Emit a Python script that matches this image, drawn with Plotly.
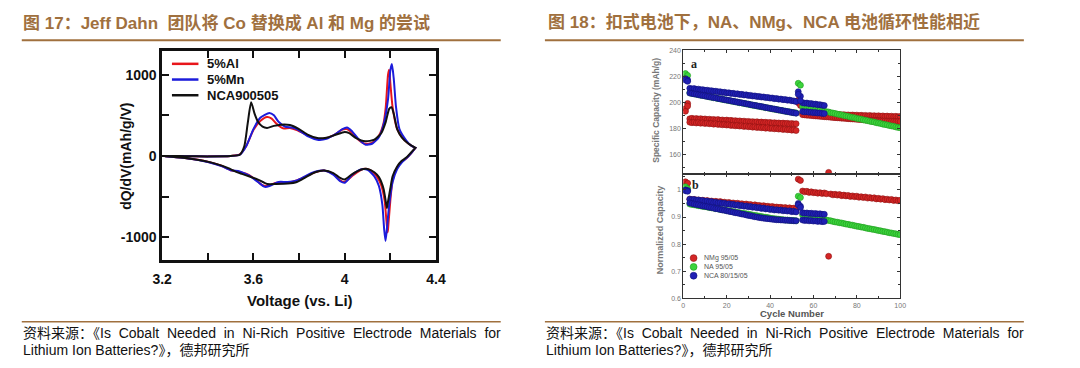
import plotly.graph_objects as go

# ---------------- Left chart: dQ/dV curves ----------------
v_al_charge = [3.20, 3.30, 3.40, 3.50, 3.54, 3.57, 3.60, 3.63, 3.66, 3.68, 3.70, 3.73, 3.76, 3.79, 3.84, 3.88,
               3.92, 3.96, 3.99, 4.01, 4.03, 4.06, 4.09, 4.12, 4.15, 4.17, 4.18, 4.19, 4.195, 4.20, 4.21, 4.23,
               4.26, 4.29, 4.31]
dq_al_charge = [0, -2, -5, 0, 20, 130, 320, 430, 480, 460, 400, 340, 345, 320, 250, 210,
                220, 270, 325, 330, 290, 200, 150, 160, 250, 400, 600, 1000, 1060, 900, 600, 330,
                200, 130, 100]
v_al_dis = [4.31, 4.29, 4.27, 4.25, 4.23, 4.21, 4.20, 4.19, 4.188, 4.183, 4.175, 4.16, 4.14, 4.11, 4.08, 4.04,
            4.00, 3.98, 3.95, 3.91, 3.87, 3.83, 3.79, 3.74, 3.70, 3.66, 3.64, 3.61, 3.57, 3.53, 3.50, 3.46,
            3.40, 3.30, 3.20]
dq_al_dis = [100, 30, -30, -70, -140, -300, -550, -900, -940, -800, -550, -360, -250, -170, -160, -230,
             -320, -300, -220, -180, -200, -250, -300, -330, -330, -370, -360, -290, -220, -190, -175, -120,
             -70, -25, 0]

v_mn_charge = [3.20, 3.30, 3.40, 3.50, 3.54, 3.57, 3.60, 3.63, 3.67, 3.69, 3.71, 3.74, 3.77, 3.80, 3.84, 3.88,
               3.92, 3.96, 3.99, 4.01, 4.03, 4.06, 4.09, 4.12, 4.15, 4.17, 4.19, 4.20, 4.207, 4.215, 4.225, 4.24,
               4.27, 4.29, 4.31]
dq_mn_charge = [0, -2, -5, 0, 15, 130, 330, 470, 530, 500, 420, 360, 350, 315, 240, 200,
                210, 270, 330, 350, 310, 210, 140, 150, 230, 380, 700, 1050, 1130, 950, 600, 330,
                190, 130, 100]
v_mn_dis = [4.31, 4.29, 4.27, 4.25, 4.23, 4.21, 4.195, 4.185, 4.179, 4.173, 4.165, 4.15, 4.13, 4.10, 4.07, 4.03,
            4.00, 3.98, 3.95, 3.91, 3.87, 3.83, 3.79, 3.75, 3.71, 3.67, 3.65, 3.62, 3.58, 3.54, 3.50, 3.46,
            3.40, 3.30, 3.20]
dq_mn_dis = [100, 30, -30, -80, -160, -320, -600, -900, -1045, -900, -600, -370, -250, -170, -165, -240,
             -330, -310, -230, -180, -195, -245, -300, -320, -320, -370, -380, -320, -240, -190, -175, -125,
             -75, -25, 0]

v_nca_charge = [3.20, 3.30, 3.40, 3.50, 3.54, 3.56, 3.575, 3.59, 3.605, 3.62, 3.64, 3.66, 3.69, 3.72, 3.76, 3.80,
                3.84, 3.88, 3.92, 3.96, 4.00, 4.02, 4.05, 4.09, 4.13, 4.16, 4.18, 4.195, 4.205, 4.215, 4.23,
                4.25, 4.28, 4.31]
dq_nca_charge = [0, -2, -5, 0, 15, 120, 400, 660, 520, 420, 360, 345, 370, 385, 380, 330,
                 260, 220, 225, 260, 295, 280, 220, 180, 200, 280, 420, 580, 600, 520, 330,
                 230, 150, 100]
v_nca_dis = [4.31, 4.29, 4.27, 4.25, 4.23, 4.21, 4.20, 4.19, 4.185, 4.18, 4.17, 4.15, 4.13, 4.10, 4.07, 4.03,
             4.00, 3.98, 3.95, 3.91, 3.87, 3.83, 3.79, 3.75, 3.70, 3.66, 3.62, 3.58, 3.55, 3.52, 3.49, 3.44,
             3.38, 3.30, 3.20]
dq_nca_dis = [100, 40, -20, -60, -130, -250, -400, -560, -640, -560, -400, -260, -200, -160, -170, -230,
              -290, -270, -210, -180, -200, -260, -320, -340, -345, -345, -290, -250, -220, -190, -150, -100,
              -60, -25, 0]

left_series = ["5%Al", "5%Mn", "NCA900505"]
left_colors = ["#E8161B", "#1C1CDB", "#111111"]
x_ticks_left = [3.2, 3.4, 3.6, 3.8, 4.0, 4.2, 4.4]
x_ticktext_left = ["3.2", "", "3.6", "", "4", "", "4.4"]
y_ticks_left = [-1000, -500, 0, 500, 1000]
y_ticktext_left = ["-1000", "", "0", "", "1000"]

# ---------------- Right chart: cycling ----------------
cycles = list(range(1, 101))

nmg_cap_a = ([195.0, 199.0] +
             [187.2, 187.6, 187.0, 187.4, 186.9, 187.3, 186.8, 187.1, 186.5, 186.9,
              186.4, 186.7, 186.2, 186.6, 186.0, 186.3, 185.8, 186.2, 185.7, 186.0,
              185.5, 185.8, 185.3, 185.6, 185.1, 185.4, 184.9, 185.2, 184.8, 185.0,
              184.6, 184.9, 184.4, 184.7, 184.3, 184.5, 184.1, 184.4, 183.9, 184.2,
              183.8, 184.0, 183.6, 183.9, 183.5, 183.7, 183.3, 183.6, 183.2, 183.4] +
             [201.5, 199.0] +
             [191.8, 191.5, 191.7, 191.2, 191.4, 191.0, 191.3, 190.9, 191.1, 190.8,
              191.0, 190.6, 146.0, 190.7, 190.4, 190.6, 190.3, 190.5, 190.1, 190.4,
              190.0, 190.2, 189.9, 190.1, 189.8, 190.0, 189.6, 189.9, 189.5, 189.8,
              189.4, 189.7, 189.3, 189.6, 189.2, 189.5, 189.1, 189.4, 189.0, 189.3,
              188.9, 189.2, 188.8, 189.1, 188.7, 189.0])
nmg_cap_b = ([193.0, 197.0] +
             [184.6, 184.2, 184.5, 184.0, 184.3, 183.8, 184.1, 183.6, 183.9, 183.4,
              183.6, 183.1, 183.4, 182.9, 183.1, 182.6, 182.9, 182.4, 182.6, 182.1,
              182.3, 181.8, 182.1, 181.6, 181.8, 181.3, 181.6, 181.1, 181.3, 180.8,
              181.0, 180.5, 180.8, 180.3, 180.5, 180.0, 180.3, 179.8, 180.0, 179.5,
              179.8, 179.3, 179.5, 179.0, 179.3, 178.8, 179.0, 178.5, 178.7, 178.2] +
             [199.5, 197.5] +
             [190.4, 190.2, 190.0, 189.9, 189.7, 189.6, 189.4, 189.3, 189.1, 189.0,
              188.8, 188.7, 188.6, 188.4, 188.3, 188.1, 188.0, 187.9, 187.7, 187.6,
              187.5, 187.3, 187.2, 187.1, 187.0, 186.8, 186.7, 186.6, 186.5, 186.3,
              186.2, 186.1, 186.0, 185.9, 185.8, 185.7, 185.6, 185.5, 185.5, 185.4,
              185.3, 185.3, 185.2, 185.1, 185.1, 185.0])
na_cap = ([222.0, 220.5] +
          [207.2, 206.6, 206.5, 206.0, 205.8, 205.3, 205.2, 204.7, 204.5, 204.0,
           203.8, 203.4, 203.2, 202.7, 202.6, 202.1, 201.9, 201.5, 201.3, 200.8,
           200.6, 200.2, 200.0, 199.5, 199.4, 198.9, 198.7, 198.3, 198.1, 197.6,
           197.5, 197.0, 196.8, 196.4, 196.2, 195.7, 195.6, 195.1, 194.9, 194.5,
           194.3, 193.9, 193.7, 193.3, 193.1, 192.7, 192.6, 192.2, 192.0, 191.7] +
          [214.5, 213.0] +
          [196.8, 196.3, 196.0, 195.7, 195.2, 194.9, 194.6, 194.1, 193.8, 193.5,
           193.0, 192.7, 192.4, 191.9, 191.6, 191.3, 190.8, 190.5, 190.2, 189.7,
           189.4, 189.1, 188.6, 188.3, 188.0, 187.5, 187.2, 186.9, 186.4, 186.1,
           185.8, 185.3, 185.0, 184.7, 184.2, 183.9, 183.6, 183.1, 182.8, 182.5,
           182.0, 181.7, 181.4, 180.9, 180.6, 180.3])
nca_cap_a = ([218.0, 217.0] +
             [210.6, 210.2, 210.4, 209.8, 210.0, 209.5, 209.6, 209.1, 209.2, 208.7,
              208.8, 208.3, 208.4, 207.9, 208.0, 207.5, 207.6, 207.1, 207.2, 206.7,
              206.8, 206.3, 206.4, 205.9, 206.0, 205.5, 205.6, 205.1, 205.2, 204.7,
              204.8, 204.3, 204.4, 203.9, 204.0, 203.5, 203.6, 203.1, 203.2, 202.7,
              202.8, 202.3, 202.4, 201.9, 202.0, 201.5, 201.6, 201.1, 200.9, 200.5] +
             [208.0, 204.5] +
             [199.5, 199.2, 199.3, 198.8, 198.9, 198.4, 198.5, 198.0, 198.1, 197.6, 197.4])
nca_cap_b = ([217.0, 216.0] +
             [207.0, 206.7, 206.3, 206.1, 205.7, 205.4, 205.1, 204.8, 204.4, 204.2,
              203.8, 203.5, 203.2, 202.9, 202.5, 202.3, 201.9, 201.6, 201.3, 201.0,
              200.6, 200.4, 200.0, 199.7, 199.4, 199.1, 198.7, 198.5, 198.1, 197.8,
              197.5, 197.2, 196.8, 196.6, 196.2, 195.9, 195.6, 195.3, 194.9, 194.7,
              194.3, 194.0, 193.7, 193.4, 193.0, 192.8, 192.4, 192.1, 191.8, 191.5] +
             [206.0, 201.0] +
             [192.8, 192.5, 192.6, 192.2, 192.3, 191.9, 192.0, 191.6, 191.7, 191.3, 191.2])

nmg_norm = ([1.030, 1.025] +
            [0.966, 0.963, 0.965, 0.962, 0.963, 0.960, 0.962, 0.959, 0.961, 0.958,
             0.959, 0.956, 0.958, 0.955, 0.957, 0.954, 0.955, 0.952, 0.954, 0.951,
             0.952, 0.949, 0.951, 0.948, 0.949, 0.946, 0.948, 0.945, 0.946, 0.943,
             0.945, 0.942, 0.943, 0.940, 0.942, 0.939, 0.940, 0.937, 0.939, 0.936,
             0.937, 0.935, 0.936, 0.933, 0.935, 0.932, 0.934, 0.931, 0.933, 0.930] +
            [1.040, 1.035] +
            [0.996, 0.993, 0.995, 0.991, 0.993, 0.990, 0.991, 0.988, 0.990, 0.987,
             0.989, 0.986, 0.755, 0.985, 0.982, 0.984, 0.981, 0.983, 0.979, 0.981,
             0.978, 0.980, 0.976, 0.978, 0.975, 0.977, 0.973, 0.975, 0.972, 0.974,
             0.970, 0.972, 0.969, 0.971, 0.967, 0.969, 0.966, 0.968, 0.964, 0.966,
             0.963, 0.965, 0.961, 0.963, 0.960, 0.962])
na_norm = ([1.012, 1.005] +
           [0.948, 0.946, 0.945, 0.944, 0.942, 0.941, 0.939, 0.938, 0.937, 0.935,
            0.934, 0.933, 0.931, 0.930, 0.928, 0.927, 0.926, 0.924, 0.923, 0.921,
            0.920, 0.919, 0.917, 0.916, 0.914, 0.913, 0.912, 0.910, 0.909, 0.907,
            0.906, 0.905, 0.903, 0.902, 0.900, 0.899, 0.898, 0.896, 0.895, 0.894,
            0.893, 0.892, 0.891, 0.890, 0.889, 0.889, 0.888, 0.887, 0.887, 0.886] +
           [0.977, 0.972] +
           [0.908, 0.906, 0.905, 0.903, 0.901, 0.899, 0.897, 0.895, 0.894, 0.892,
            0.890, 0.889, 0.887, 0.886, 0.884, 0.882, 0.881, 0.879, 0.878, 0.876,
            0.874, 0.873, 0.871, 0.870, 0.868, 0.866, 0.865, 0.863, 0.862, 0.860,
            0.858, 0.857, 0.855, 0.854, 0.852, 0.850, 0.849, 0.847, 0.846, 0.844,
            0.842, 0.841, 0.839, 0.838, 0.836, 0.835])
nca_norm_a = ([1.000, 0.998] +
              [0.966, 0.964, 0.965, 0.962, 0.963, 0.960, 0.961, 0.958, 0.959, 0.956,
               0.957, 0.954, 0.955, 0.952, 0.953, 0.950, 0.951, 0.948, 0.949, 0.946,
               0.947, 0.944, 0.945, 0.942, 0.943, 0.940, 0.941, 0.938, 0.939, 0.936,
               0.937, 0.934, 0.935, 0.932, 0.933, 0.930, 0.931, 0.928, 0.929, 0.926,
               0.927, 0.925, 0.926, 0.923, 0.924, 0.922, 0.923, 0.920, 0.921, 0.919] +
              [0.950, 0.940] +
              [0.916, 0.914, 0.915, 0.913, 0.914, 0.912, 0.913, 0.911, 0.912, 0.910, 0.910])
nca_norm_b = ([0.997, 0.995] +
              [0.952, 0.950, 0.948, 0.946, 0.945, 0.943, 0.941, 0.940, 0.938, 0.936,
               0.935, 0.933, 0.931, 0.930, 0.928, 0.926, 0.925, 0.923, 0.921, 0.920,
               0.918, 0.916, 0.915, 0.913, 0.911, 0.910, 0.908, 0.906, 0.905, 0.903,
               0.901, 0.900, 0.898, 0.897, 0.896, 0.895, 0.894, 0.893, 0.892, 0.891,
               0.890, 0.890, 0.889, 0.889, 0.888, 0.888, 0.887, 0.887, 0.886, 0.886] +
              [0.945, 0.935] +
              [0.889, 0.887, 0.888, 0.886, 0.887, 0.885, 0.886, 0.884, 0.885, 0.883, 0.884])

right_series = ["NMg 95/05", "NA 95/05", "NCA 80/15/05"]
right_fill = ["#D42626", "#3CD43C", "#2020B4"]
right_edge = ["#8E1010", "#1F9A1F", "#10107A"]

# ---------------- Texts ----------------
title_left = "图 17：Jeff Dahn  团队将 Co 替换成 Al 和 Mg 的尝试"
title_right = "图 18：扣式电池下，NA、NMg、NCA 电池循环性能相近"
source_line1 = "资料来源：《Is Cobalt Needed in Ni-Rich Positive Electrode Materials for"
source_line2 = "Lithium Ion Batteries?》，德邦研究所"

BROWN = "#A0703E"
FONT = "Arial, Liberation Sans, Noto Sans CJK SC, sans-serif"
W_PX, H_PX = 1080, 368


def px(x):
    return x / W_PX


def py(y):
    return 1 - y / H_PX


fig = go.Figure()

# Left chart traces
left_x = [v_al_charge + v_al_dis, v_mn_charge + v_mn_dis, v_nca_charge + v_nca_dis]
left_y = [dq_al_charge + dq_al_dis, dq_mn_charge + dq_mn_dis, dq_nca_charge + dq_nca_dis]
for name, color, xs, ys in zip(left_series, left_colors, left_x, left_y):
    fig.add_trace(go.Scatter(x=xs, y=ys, mode="lines", name=name, showlegend=False,
                             line=dict(color=color, width=2, shape="spline", smoothing=0.6),
                             xaxis="x", yaxis="y"))

# Right top panel
top_sets = [
    (nmg_cap_a, 0), (nmg_cap_b, 0), (na_cap, 1), (nca_cap_a, 2), (nca_cap_b, 2)
]
for vals, idx in top_sets:
    fig.add_trace(go.Scatter(x=cycles[:len(vals)], y=vals, mode="markers", showlegend=False,
                             name=right_series[idx],
                             marker=dict(size=6, color=right_fill[idx],
                                         line=dict(color=right_edge[idx], width=0.6)),
                             xaxis="x2", yaxis="y2"))

bottom_sets = [
    (nmg_norm, 0), (na_norm, 1), (nca_norm_a, 2), (nca_norm_b, 2)
]
for vals, idx in bottom_sets:
    fig.add_trace(go.Scatter(x=cycles[:len(vals)], y=vals, mode="markers", showlegend=False,
                             name=right_series[idx],
                             marker=dict(size=6, color=right_fill[idx],
                                         line=dict(color=right_edge[idx], width=0.6)),
                             xaxis="x3", yaxis="y3"))

left_tickfont = dict(family=FONT, size=14, color="#111111", weight="bold")
right_tickfont = dict(family=FONT, size=7, color="#777777")

fig.update_layout(
    width=W_PX, height=H_PX,
    margin=dict(l=0, r=0, t=0, b=0),
    paper_bgcolor="white", plot_bgcolor="white",
    showlegend=False,
    font=dict(family=FONT),
    xaxis=dict(domain=[px(155), px(434)], anchor="y", range=[3.2, 4.4],
               tickvals=x_ticks_left, ticktext=x_ticktext_left,
               ticks="inside", ticklen=7, tickwidth=2, tickcolor="#111111",
               ticklabelstandoff=4,
               showline=True, linewidth=2.5, linecolor="#111111", mirror="ticks",
               showgrid=False, zeroline=False, tickfont=left_tickfont),
    yaxis=dict(domain=[py(261), py(48)], anchor="x", range=[-1280, 1290],
               tickvals=y_ticks_left, ticktext=y_ticktext_left,
               ticks="inside", ticklen=7, tickwidth=2, tickcolor="#111111",
               showline=True, linewidth=2.5, linecolor="#111111", mirror="ticks",
               showgrid=False, zeroline=False, tickfont=left_tickfont),
    xaxis2=dict(domain=[px(686), px(907)], anchor="y2", range=[0, 100], dtick=20,
                showticklabels=False, ticks="inside", ticklen=3, tickcolor="#333333",
                minor=dict(dtick=10, ticks="inside", ticklen=2, tickcolor="#333333"),
                showline=True, linewidth=1, linecolor="#333333", mirror="ticks",
                showgrid=False, zeroline=False),
    yaxis2=dict(domain=[py(173), py(47)], anchor="x2", range=[145, 240], dtick=20,
                tick0=0, ticks="inside", ticklen=3, tickcolor="#333333",
                minor=dict(dtick=10, ticks="inside", ticklen=2, tickcolor="#333333"),
                showline=True, linewidth=1, linecolor="#333333", mirror="ticks",
                showgrid=False, zeroline=False, tickfont=right_tickfont),
    xaxis3=dict(domain=[px(686), px(907)], anchor="y3", range=[0, 100], dtick=20,
                ticks="inside", ticklen=3, tickcolor="#333333",
                minor=dict(dtick=10, ticks="inside", ticklen=2, tickcolor="#333333"),
                showline=True, linewidth=1, linecolor="#333333", mirror="ticks",
                showgrid=False, zeroline=False, tickfont=right_tickfont),
    yaxis3=dict(domain=[py(300), py(173)], anchor="x3", range=[0.6, 1.06],
                tickvals=[0.6, 0.7, 0.8, 0.9, 1.0], ticktext=["0.6", "0.7", "0.8", "0.9", "1"],
                ticks="inside", ticklen=3, tickcolor="#333333",
                minor=dict(dtick=0.05, ticks="inside", ticklen=2, tickcolor="#333333"),
                showline=True, linewidth=1, linecolor="#333333", mirror="ticks",
                showgrid=False, zeroline=False, tickfont=right_tickfont),
)

shapes = []
annotations = []

# Title rules and footer rules
for x0, x1 in [(12, 500), (545, 1033)]:
    shapes.append(dict(type="line", xref="paper", yref="paper", x0=px(x0), x1=px(x1),
                       y0=py(37), y1=py(37), line=dict(color=BROWN, width=2)))
    shapes.append(dict(type="line", xref="paper", yref="paper", x0=px(x0), x1=px(x1),
                       y0=py(324), y1=py(324), line=dict(color=BROWN, width=1.5)))

# Titles
annotations.append(dict(text="<b>" + title_left + "</b>", x=px(11), y=py(19), xref="paper", yref="paper",
                        xanchor="left", yanchor="middle", showarrow=False,
                        font=dict(family=FONT, size=17, color=BROWN)))
annotations.append(dict(text="<b>" + title_right + "</b>", x=px(546), y=py(19), xref="paper", yref="paper",
                        xanchor="left", yanchor="middle", showarrow=False,
                        font=dict(family=FONT, size=17, color=BROWN)))

# Footers (first line is justified in the source: widen its word gaps)
line1_display = source_line1.replace(" ", "&nbsp; ")
for x0 in [11, 544]:
    annotations.append(dict(text=line1_display, x=px(x0), y=py(335), xref="paper", yref="paper",
                            xanchor="left", yanchor="middle", showarrow=False,
                            font=dict(family=FONT, size=14, color="#111111")))
    annotations.append(dict(text=source_line2, x=px(x0), y=py(353), xref="paper", yref="paper",
                            xanchor="left", yanchor="middle", showarrow=False,
                            font=dict(family=FONT, size=14, color="#111111")))

# Left axis titles
annotations.append(dict(text="<b>dQ/dV(mAh/g/V)</b>", x=px(118), y=py(155), xref="paper", yref="paper",
                        xanchor="center", yanchor="middle", textangle=-90, showarrow=False,
                        font=dict(family=FONT, size=14, color="#111111")))
annotations.append(dict(text="<b>Voltage (vs. Li)</b>", x=px(295), y=py(302), xref="paper", yref="paper",
                        xanchor="center", yanchor="middle", showarrow=False,
                        font=dict(family=FONT, size=15, color="#111111")))

# Left legend
for i, (name, color) in enumerate(zip(left_series, left_colors)):
    yy = 61 + 16 * i
    shapes.append(dict(type="line", xref="paper", yref="paper", x0=px(165), x1=px(192),
                       y0=py(yy), y1=py(yy), line=dict(color=color, width=2.5)))
    annotations.append(dict(text="<b>" + name + "</b>", x=px(199), y=py(yy), xref="paper", yref="paper",
                            xanchor="left", yanchor="middle", showarrow=False,
                            font=dict(family=FONT, size=13, color="#111111")))

# Right axis titles
annotations.append(dict(text="<b>Specific Capacity (mAh/g)</b>", x=px(658), y=py(108), xref="paper",
                        yref="paper", xanchor="center", yanchor="middle", textangle=-90, showarrow=False,
                        font=dict(family=FONT, size=8.5, color="#777777")))
annotations.append(dict(text="<b>Normalized Capacity</b>", x=px(662), y=py(230), xref="paper",
                        yref="paper", xanchor="center", yanchor="middle", textangle=-90, showarrow=False,
                        font=dict(family=FONT, size=9, color="#777777")))
annotations.append(dict(text="<b>Cycle Number</b>", x=px(797), y=py(316), xref="paper",
                        yref="paper", xanchor="center", yanchor="middle", showarrow=False,
                        font=dict(family=FONT, size=9.5, color="#555555")))
annotations.append(dict(text="<b>a</b>", x=px(697), y=py(61), xref="paper", yref="paper",
                        xanchor="center", yanchor="middle", showarrow=False,
                        font=dict(family="Liberation Serif, DejaVu Serif, serif", size=12, color="#222222")))
annotations.append(dict(text="<b>b</b>", x=px(698), y=py(184), xref="paper", yref="paper",
                        xanchor="center", yanchor="middle", showarrow=False,
                        font=dict(family="Liberation Serif, DejaVu Serif, serif", size=12, color="#222222")))

# Right legend
for i, name in enumerate(right_series):
    yy = 259 + 9 * i
    shapes.append(dict(type="circle", xref="paper", yref="paper",
                       x0=px(693), x1=px(700), y0=py(yy + 3.5), y1=py(yy - 3.5),
                       fillcolor=right_fill[i], line=dict(color=right_edge[i], width=0.6)))
    annotations.append(dict(text=name, x=px(705), y=py(yy), xref="paper", yref="paper",
                            xanchor="left", yanchor="middle", showarrow=False,
                            font=dict(family=FONT, size=7, color="#555555")))

fig.update_layout(shapes=shapes, annotations=annotations)
fig.write_html("out.html",
               config={"displayModeBar": False, "displaylogo": False},
               post_script="document.body.style.margin='0';document.body.style.overflow='hidden';")
